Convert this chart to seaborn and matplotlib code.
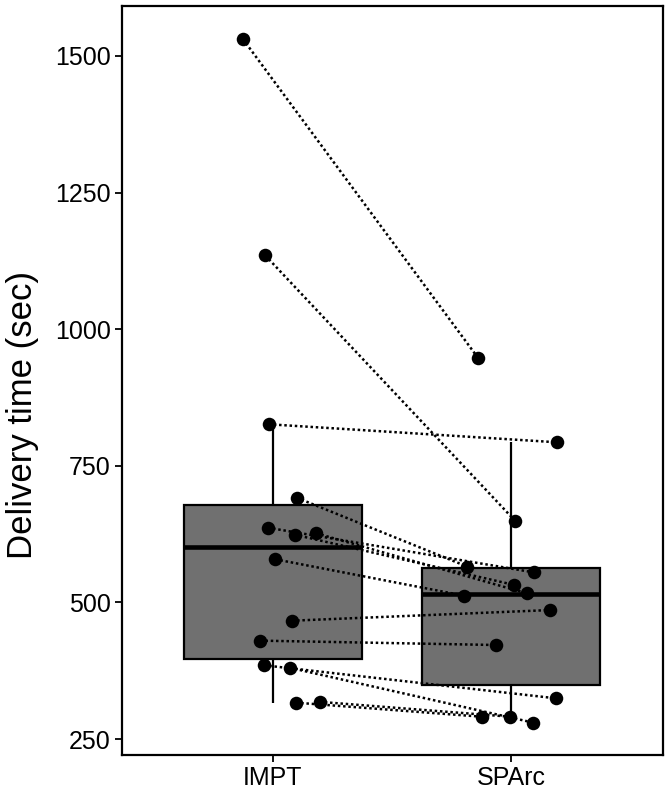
import numpy as np
import pandas as pd
import matplotlib
matplotlib.use("Agg")
import matplotlib.pyplot as plt
import seaborn as sns
from matplotlib import font_manager

# ---- data (paired patients) ----
categories = ["IMPT", "SPArc"]
impt_time = [1531, 1135, 826, 691.6, 636.7, 624, 626.5, 578.9, 466.5, 430, 384.9, 380.5, 316.5, 318]
sparc_time = [946.7, 649.5, 793, 565.4, 555, 531.9, 516.6, 512.3, 486, 422, 324.5, 279.9, 290.8, 290.8]
# horizontal jitter of each point (category units)
impt_jitter = [-0.126, -0.032, -0.018, 0.10, -0.021, 0.091, 0.182, 0.010, 0.080, -0.053, -0.037, 0.070, 0.097, 0.196]
sparc_jitter = [-0.137, 0.017, 0.194, -0.183, 0.095, 0.014, 0.066, -0.197, 0.165, -0.063, 0.188, 0.094, -0.123, -0.004]
y_ticks = [250, 500, 750, 1000, 1250, 1500]
y_label = "Delivery time (sec)"

n = len(impt_time)
df = pd.DataFrame({
    "plan": [categories[0]] * n + [categories[1]] * n,
    "time": impt_time + sparc_time,
    "pair": list(range(n)) * 2,
    "jit": impt_jitter + sparc_jitter,
})
df["xpos"] = df["plan"].map({c: i for i, c in enumerate(categories)}) + df["jit"]

sns.set_theme(style="white")
available = {f.name for f in font_manager.fontManager.ttflist}
base_font = "Liberation Sans" if "Liberation Sans" in available else "DejaVu Sans"
plt.rcParams["font.family"] = [base_font, "DejaVu Sans"]

fig = plt.figure(figsize=(6.66, 7.95), dpi=100)
ax = fig.add_axes([0.1827, 0.0503, 0.996 - 0.1827, 0.9925 - 0.0503])

sns.boxplot(data=df, x="plan", y="time", order=categories, ax=ax,
            color="#707070", saturation=1, width=0.75, showfliers=False,
            showcaps=False, linecolor="black", linewidth=1.6,
            medianprops=dict(linewidth=3.3, color="black"),
            boxprops=dict(edgecolor="black", facecolor="#707070", zorder=1),
            whiskerprops=dict(linewidth=1.6, color="black"))

sns.lineplot(data=df, x="xpos", y="time", units="pair", estimator=None, sort=False,
             ax=ax, color="black", linewidth=1.8, linestyle=(0, (1, 1.1)), zorder=3,
             legend=False)

sns.scatterplot(data=df, x="xpos", y="time", ax=ax, color="black", s=95,
                edgecolor="black", linewidth=0, zorder=4, legend=False)

ax.set_xlim(-0.635, 1.64)
ax.set_ylim(220.7, 1591.5)
ax.set_xticks(range(len(categories)))
ax.set_xticklabels(categories)
ax.set_yticks(y_ticks)
ax.set_yticklabels([str(t) for t in y_ticks])
ax.set_xlabel("")
ax.set_ylabel(y_label, fontsize=25, color="black")
ax.yaxis.set_label_coords(-0.152, 0.454)
ax.tick_params(axis="both", which="both", direction="out", length=5, width=1.3,
               colors="black", labelsize=18, pad=3, left=True, bottom=True)
for sp in ax.spines.values():
    sp.set_visible(True)
    sp.set_color("black")
    sp.set_linewidth(1.6)
ax.grid(False)

fig.savefig("out.png", dpi=100)
